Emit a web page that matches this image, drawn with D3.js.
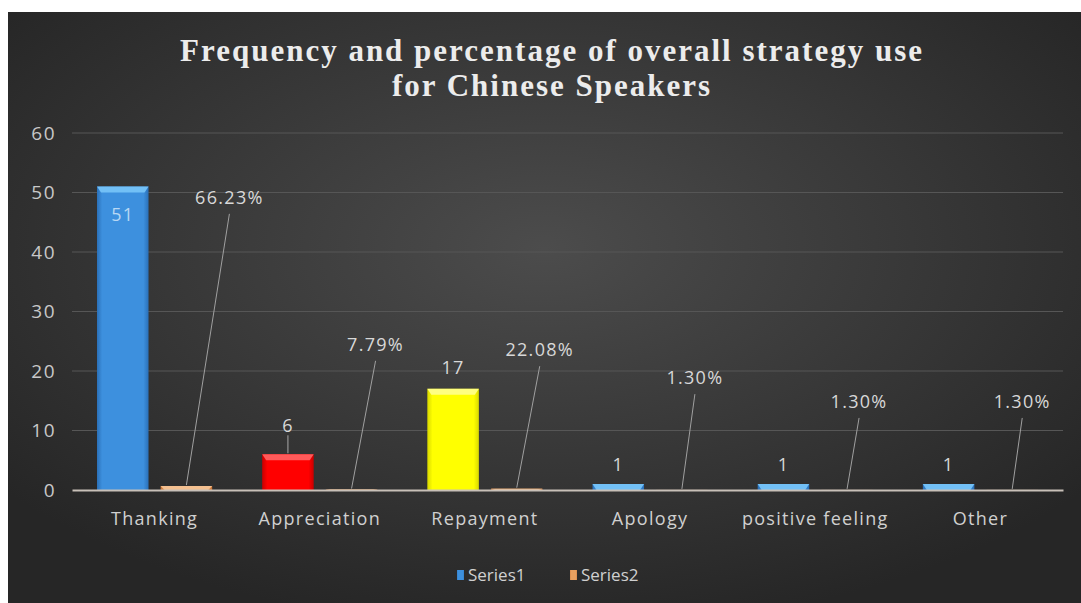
<!DOCTYPE html>
<html>
<head>
<meta charset="utf-8">
<script src="https://cdn.jsdelivr.net/npm/d3@7"></script>
<style>
  html, body { margin: 0; padding: 0; background: #ffffff; }
  svg { display: block; }
</style>
</head>
<body>
<svg id="chart" width="1081" height="603"></svg>
<script>
// ---- data ----
const categories = ["Thanking", "Appreciation", "Repayment", "Apology", "positive feeling", "Other"];
const series1 = [51, 6, 17, 1, 1, 1];
const series2 = [0.6623, 0.0779, 0.2208, 0.0130, 0.0130, 0.0130];
const series2Labels = ["66.23%", "7.79%", "22.08%", "1.30%", "1.30%", "1.30%"];
const yTicks = [0, 10, 20, 30, 40, 50, 60];
const seriesNames = ["Series1", "Series2"];
const titleLines = ["Frequency and percentage of overall strategy use", "for Chinese Speakers"];

// ---- label layout (manual placements as in the original) ----
const s1Fill = ["blue", "red", "yellow", "blue", "blue", "blue"];
const s1LabelDy = [28, -29, -21, -19, -19, -19];       // px from bar top (positive = inside)
const s2LabelDx = [43, 24, 23, 13, 12, 10];            // px from bar centre
const s2LabelY = [49.1, 24.4, 23.5, 18.8, 14.8, 14.8]; // in axis units
const titleWidths = [742, 318];

const FONT = "'Open Sans', Lato, sans-serif";
const LS = 1.3;

const svg = d3.select("#chart");
const W = 1081, H = 603;
const defs = svg.append("defs");

// background
const bg = defs.append("radialGradient").attr("id", "bg")
  .attr("cx", "50%").attr("cy", "40%").attr("r", "65%");
bg.append("stop").attr("offset", "0%").attr("stop-color", "#4c4c4c");
bg.append("stop").attr("offset", "100%").attr("stop-color", "#262626");
svg.append("rect").attr("x", 8).attr("y", 12).attr("width", W - 8).attr("height", H - 12)
  .attr("fill", "url(#bg)");

function hGrad(id, edge, mid) {
  const g = defs.append("linearGradient").attr("id", id).attr("x1", "0").attr("x2", "1").attr("y1", "0").attr("y2", "0");
  g.append("stop").attr("offset", "0%").attr("stop-color", edge);
  g.append("stop").attr("offset", "10%").attr("stop-color", mid);
  g.append("stop").attr("offset", "90%").attr("stop-color", mid);
  g.append("stop").attr("offset", "100%").attr("stop-color", edge);
}
hGrad("g-blue", "#2a70b8", "#3d90de");
hGrad("g-red", "#c80000", "#ff0000");
hGrad("g-yellow", "#d8d800", "#ffff00");
hGrad("g-orange", "#c87030", "#e8a060");
const capColor = { blue: "#72c0f6", red: "#ff5a5a", yellow: "#ffff80", orange: "#f4c090" };

// scales
const margin = { left: 72, right: 1063, top: 133, bottom: 490 };
const x0 = d3.scaleBand().domain(categories).range([margin.left, margin.right]).padding(0);
const x1 = d3.scaleBand().domain(seriesNames).range([25, x0.bandwidth() - 25]).paddingInner(0.19).paddingOuter(0);
const y = d3.scaleLinear().domain([0, 60]).range([margin.bottom, margin.top]);

// gridlines
svg.append("g").selectAll("line").data(yTicks.filter(t => t > 0)).join("line")
  .attr("x1", margin.left).attr("x2", margin.right)
  .attr("y1", d => y(d)).attr("y2", d => y(d))
  .attr("stroke", "#565656").attr("stroke-width", 1);

// y axis labels via d3 axis
const yAxis = svg.append("g").attr("transform", `translate(${margin.left - 12},0)`)
  .call(d3.axisLeft(y).tickValues(yTicks).tickSize(0).tickPadding(4));
yAxis.select(".domain").remove();
yAxis.selectAll("text").attr("fill", "#c8c8c8").attr("font-size", 19)
  .attr("letter-spacing", 1.5)
  .attr("font-family", FONT);

// bars
const groups = svg.append("g").selectAll("g").data(categories).join("g")
  .attr("transform", d => `translate(${x0(d)},0)`);

function drawBar(g, xPos, w, val, fill, cap) {
  const top = y(val), h = y(0) - y(val);
  g.append("rect").attr("x", xPos).attr("y", top).attr("width", w).attr("height", h)
    .attr("fill", `url(#g-${fill})`);
  const ch = Math.min(6, h);
  g.append("path")
    .attr("d", `M${xPos},${top} L${xPos + w},${top} L${xPos + w - 4},${top + ch} L${xPos + 4},${top + ch} Z`)
    .attr("fill", cap);
}

groups.each(function (cat, i) {
  const g = d3.select(this);
  const bx1 = x1("Series1"), bw = x1.bandwidth();
  drawBar(g, bx1, bw, series1[i], s1Fill[i], capColor[s1Fill[i]]);
  const bx2 = x1("Series2");
  drawBar(g, bx2, bw, series2[i], "orange", capColor.orange);

  // series1 label
  const cx1 = bx1 + bw / 2;
  const ly = y(series1[i]) + s1LabelDy[i];
  g.append("text").attr("x", cx1).attr("y", ly).attr("dy", "0.35em")
    .attr("text-anchor", "middle").attr("font-size", 18)
    .attr("letter-spacing", LS)
    .attr("font-family", FONT)
    .attr("fill", i === 0 ? "#b8d8f4" : "#d8d8d8")
    .text(series1[i]);
  if (i === 1) {
    g.append("line").attr("x1", cx1).attr("x2", cx1)
      .attr("y1", ly + 10).attr("y2", y(series1[i]) - 1)
      .attr("stroke", "#a8a8a8").attr("stroke-width", 1);
  }

  // series2 label and leader line
  const cx2 = bx2 + bw / 2;
  const lx = cx2 + s2LabelDx[i];
  const lyy = y(s2LabelY[i]);
  g.append("line").attr("x1", cx2).attr("y1", y(series2[i]) - 1)
    .attr("x2", lx).attr("y2", lyy + 16)
    .attr("stroke", "#a0a0a0").attr("stroke-width", 1);
  g.append("text").attr("x", lx).attr("y", lyy).attr("dy", "0.35em")
    .attr("text-anchor", "middle").attr("font-size", 18)
    .attr("letter-spacing", LS)
    .attr("font-family", FONT)
    .attr("fill", "#d8d8d8")
    .text(series2Labels[i]);
});

// x axis
const xAxis = svg.append("g").attr("transform", `translate(0,${margin.bottom})`)
  .call(d3.axisBottom(x0).tickSize(0).tickPadding(22));
xAxis.select(".domain").attr("stroke", "#c8c0b8").attr("stroke-width", 2);
xAxis.selectAll("text").attr("fill", "#d0d0d0").attr("font-size", 18)
  .attr("letter-spacing", LS)
  .attr("font-family", FONT);

// title
const title = svg.append("g");
titleLines.forEach((t, i) => {
  title.append("text").attr("x", 551).attr("y", 61 + i * 35)
    .attr("text-anchor", "middle")
    .attr("font-family", "'Liberation Serif', 'Times New Roman', serif")
    .attr("font-weight", "bold").attr("font-size", 31)
    .attr("textLength", titleWidths[i]).attr("lengthAdjust", "spacing")
    .attr("fill", "#ececec")
    .text(t);
});

// legend
const legendColors = ["blue", "orange"];
const legendX = [457, 570];
const legend = svg.append("g");
seriesNames.forEach((s, i) => {
  legend.append("rect").attr("x", legendX[i]).attr("y", 570).attr("width", 7).attr("height", 10)
    .attr("fill", `url(#g-${legendColors[i]})`);
  legend.append("text").attr("x", legendX[i] + 11).attr("y", 575).attr("dy", "0.35em")
    .attr("font-size", 17).attr("font-family", FONT)
    .attr("fill", "#d0d0d0").text(s);
});
</script>
</body>
</html>
